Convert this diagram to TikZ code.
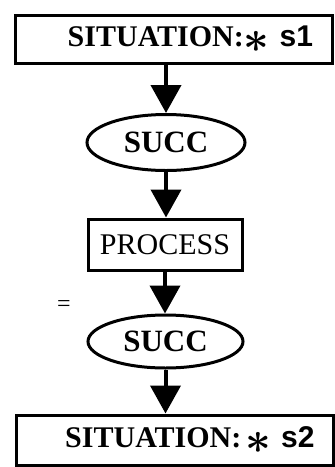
\documentclass[tikz,border=0pt]{standalone}
\usepackage{fontspec}
\usepackage{graphicx}
\usepackage{amsmath}
\setmainfont{Liberation Serif}
\newfontfamily\labelsans{Liberation Sans}
\usetikzlibrary{arrows.meta,shapes.geometric}
% situation label: serif name, starred variable in sans
\newcommand{\sitlabel}[2][0pt]{SITUATION:\hspace{#1}\raisebox{-6pt}{\scalebox{1.8}{$\boldsymbol{\ast}$}}\ {\labelsans\bfseries #2}}
\begin{document}
\begin{tikzpicture}[x=1pt,y=-1pt,
  sit/.style={draw, line width=3pt, minimum height=48pt, text width=279pt, inner xsep=19pt,
    align=right, font=\fontsize{30}{32}\selectfont\bfseries},
  act/.style={draw, line width=3pt, minimum width=154pt, minimum height=51pt,
    font=\fontsize{30}{32}\selectfont},
  rel/.style={draw, ellipse, line width=3pt, minimum width=158pt, minimum height=56pt,
    inner sep=0pt, font=\fontsize{31}{32}\selectfont\bfseries},
  flow/.style={-{Triangle[width=30pt,length=28pt]}, line width=4pt}]
\useasboundingbox (0,0) rectangle (335,467);
\node[sit] (sit1) at (173.5,39){\sitlabel{s1}};
\node[rel] (succ1) at (166,142.5){SUCC};
\node[act] (proc) at (165,244.5){PROCESS};
\node[rel, minimum width=155pt, minimum height=53pt] (succ2) at (165.5,341.5){SUCC};
\node[sit, minimum height=50pt] (sit2) at (175,440){\sitlabel[4pt]{s2}};
\node[font=\fontsize{24}{24}\selectfont] (mark) at (64,306){=};
\draw[flow](succ1.north |- sit1.south) -- (succ1.north);
\draw[flow](succ1.south) -- (succ1.south |- proc.north);
\draw[flow](proc.south) -- (proc.south |- succ2.north);
\draw[flow](succ2.south) -- (succ2.south |- sit2.north);
\end{tikzpicture}
\end{document}
